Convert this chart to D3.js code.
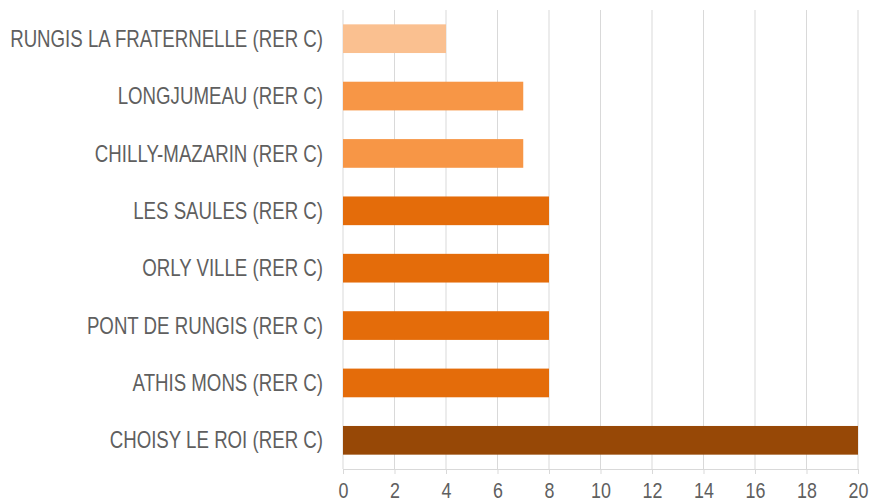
<!DOCTYPE html>
<html>
<head>
<meta charset="utf-8">
<script src="https://cdnjs.cloudflare.com/ajax/libs/d3/7.8.5/d3.min.js"></script>
<style>
  body { margin: 0; background: #fff; }
  text { font-family: "Liberation Sans Narrow", "Arial Narrow", "Liberation Sans", sans-serif; fill: #5f5f5f; }
</style>
</head>
<body>
<svg width="869" height="503"></svg>
<script>
var stations = ["RUNGIS LA FRATERNELLE (RER C)", "LONGJUMEAU (RER C)", "CHILLY-MAZARIN (RER C)",
                "LES SAULES (RER C)", "ORLY VILLE (RER C)", "PONT DE RUNGIS (RER C)",
                "ATHIS MONS (RER C)", "CHOISY LE ROI (RER C)"];
var counts = [4, 7, 7, 8, 8, 8, 8, 20];
var barColors = ["#FAC090", "#F79646", "#F79646", "#E46C0A", "#E46C0A", "#E46C0A", "#E46C0A", "#974806"];
var xTicks = [0, 2, 4, 6, 8, 10, 12, 14, 16, 18, 20];

var svg = d3.select("svg");
var mLeft = 343, mRight = 858, mTop = 10, mBottom = 469;

var x = d3.scaleLinear().domain([0, 20]).range([mLeft, mRight]);
var y = d3.scaleBand().domain(stations).range([mTop, mBottom]).paddingInner(0.5).paddingOuter(0.25);

// vertical gridlines
svg.append("g")
  .selectAll("line")
  .data(xTicks)
  .enter().append("line")
    .attr("x1", d => x(d)).attr("x2", d => x(d))
    .attr("y1", mTop).attr("y2", mBottom)
    .attr("stroke", "#d9d9d9").attr("stroke-width", 1);

// bars
svg.append("g")
  .selectAll("rect")
  .data(stations)
  .enter().append("rect")
    .attr("x", x(0))
    .attr("y", d => y(d))
    .attr("width", (d, i) => x(counts[i]) - x(0))
    .attr("height", y.bandwidth())
    .attr("fill", (d, i) => barColors[i]);

// category labels
var labels = svg.append("g")
  .selectAll("text")
  .data(stations)
  .enter().append("text")
    .attr("text-anchor", "end")
    .attr("font-size", 23)
    .attr("dy", "0.35em")
    .text(d => d);

// squeeze the text to look like a narrow font
var longest = d3.max(labels.nodes(), n => n.getComputedTextLength());
var sx = 313 / longest;
labels.attr("transform", d => "translate(" + (mLeft - 20) + "," + (y(d) + y.bandwidth() / 2) + ") scale(" + sx + ",1)");

// x axis
var xAxis = svg.append("g")
  .attr("transform", "translate(0," + mBottom + ")")
  .call(d3.axisBottom(x).tickValues(xTicks).tickSize(5).tickPadding(8).tickSizeOuter(0));
xAxis.select(".domain").attr("stroke", "#d9d9d9");
xAxis.selectAll(".tick line").attr("stroke", "#d9d9d9");
xAxis.selectAll(".tick text")
  .attr("font-size", 22)
  .attr("transform", "scale(" + sx + ",1)")
  .style("fill", "#5f5f5f")
  .style("font-family", "'Liberation Sans Narrow', 'Arial Narrow', 'Liberation Sans', sans-serif");
</script>
</body>
</html>
